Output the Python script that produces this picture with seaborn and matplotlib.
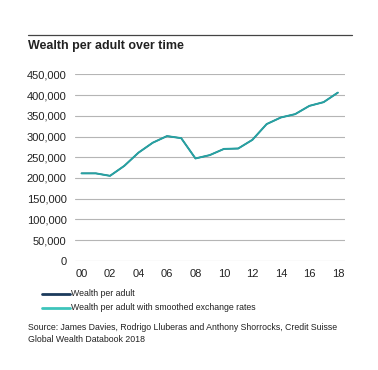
import pandas as pd
import matplotlib.pyplot as plt
import seaborn as sns

# values (USD per adult)
years = list(range(2000, 2019))
wealth = [211000, 211000, 205000, 229000, 261000, 285000, 301000, 296000, 247000, 255000,
          270000, 271000, 292000, 330000, 346000, 354000, 374000, 383000, 406000]
wealth_smoothed = [211000, 211000, 205000, 229000, 261000, 285000, 301000, 296000, 247000, 255000,
                   270000, 271000, 292000, 330000, 346000, 354000, 374000, 383000, 406000]
y_ticks = list(range(0, 450001, 50000))
x_ticks = list(range(2000, 2019, 2))
x_labels = ['00', '02', '04', '06', '08', '10', '12', '14', '16', '18']

sns.set_style('white')
plt.rcParams['font.family'] = ['Liberation Sans', 'DejaVu Sans']

df = pd.DataFrame({'year': years, 'wealth': wealth, 'smoothed': wealth_smoothed})

fig = plt.figure(figsize=(3.78, 3.70), dpi=100)
ax = fig.add_axes([0.198, 0.2954, 0.715, 0.5035])

# the two series overlap, the smoothed one sits on top
sns.lineplot(data=df, x='year', y='wealth', ax=ax, color='#1b3a5c', linewidth=1.0)
sns.lineplot(data=df, x='year', y='smoothed', ax=ax, color='#26a2a2', linewidth=1.4)

ax.set_xlim(1999.53, 2018.51)
ax.set_ylim(0, 450000)
ax.set_yticks(y_ticks)
ax.set_yticklabels([f'{v:,}' for v in y_ticks])
ax.set_xticks(x_ticks)
ax.set_xticklabels(x_labels)
ax.tick_params(axis='both', length=0, labelsize=8, colors='#222222')
ax.tick_params(axis='y', pad=6)
ax.tick_params(axis='x', pad=6)
ax.set_xlabel('')
ax.set_ylabel('')
ax.grid(axis='y', color='#b5b5b5', linewidth=0.8)
ax.set_axisbelow(True)
for s in ax.spines.values():
    s.set_visible(False)

# top rule and title
fig.add_artist(plt.Line2D([28 / 378, 352 / 378], [1 - 34.5 / 370] * 2,
                          color='#444444', linewidth=0.9))
fig.text(28 / 378, 1 - 46 / 370, 'Wealth per adult over time', fontsize=9.0,
         fontweight='bold', color='#222222', va='center', ha='left')

# legend drawn by hand
fig.add_artist(plt.Line2D([42 / 378, 70 / 378], [1 - 294 / 370] * 2, color='#1b3a5c', linewidth=2))
fig.add_artist(plt.Line2D([42 / 378, 70 / 378], [1 - 308 / 370] * 2, color='#3dc4bb', linewidth=2))
fig.text(71 / 378, 1 - 294 / 370, 'Wealth per adult', fontsize=6.3, color='#222222', va='center')
fig.text(71 / 378, 1 - 308 / 370, 'Wealth per adult with smoothed exchange rates', fontsize=6.3,
         color='#222222', va='center')

fig.text(28 / 378, 1 - 328 / 370, 'Source: James Davies, Rodrigo Lluberas and Anthony Shorrocks, Credit Suisse',
         fontsize=6.3, color='#222222', va='center')
fig.text(28 / 378, 1 - 340 / 370, 'Global Wealth Databook 2018', fontsize=6.3, color='#222222', va='center')

fig.savefig('out.png', dpi=100, facecolor='white')
